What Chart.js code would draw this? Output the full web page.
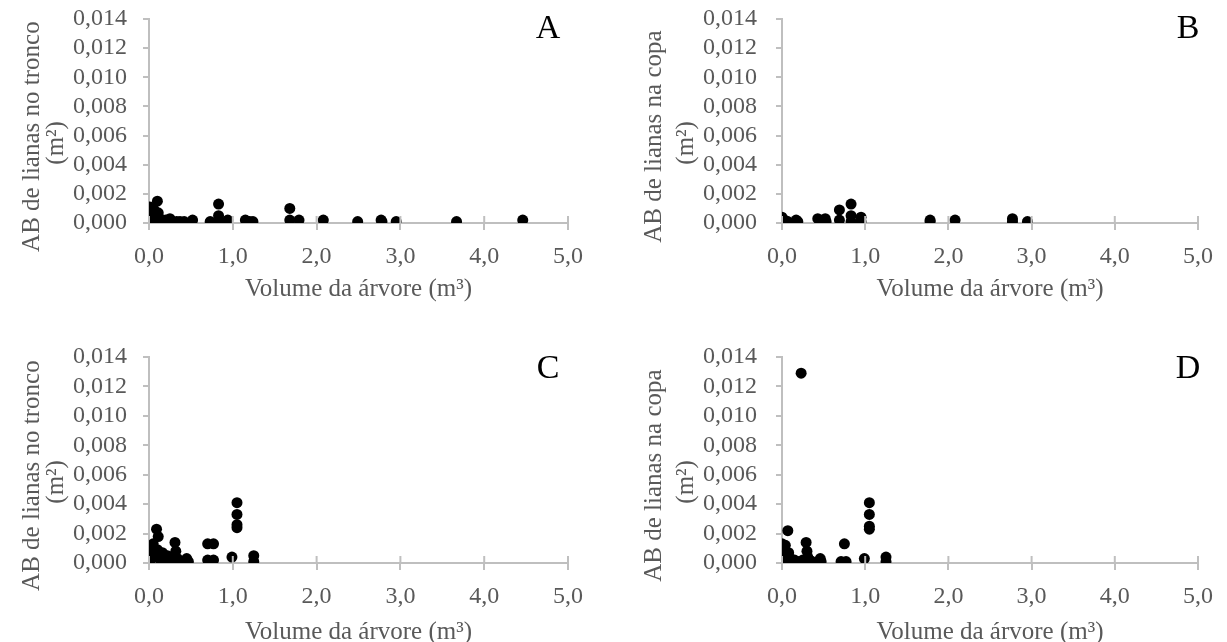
<!DOCTYPE html>
<html>
<head>
<meta charset="utf-8">
<script src="https://cdn.jsdelivr.net/npm/chart.js@4.4.0/dist/chart.umd.min.js"></script>
<style>
body{margin:0;background:#fff;width:1227px;height:642px;position:relative;overflow:hidden}
canvas{position:absolute}
</style>
</head>
<body>
<canvas id="cA" width="613" height="321" style="left:0;top:0"></canvas>
<canvas id="cB" width="614" height="321" style="left:613px;top:0"></canvas>
<canvas id="cC" width="613" height="321" style="left:0;top:321px"></canvas>
<canvas id="cD" width="614" height="321" style="left:613px;top:321px"></canvas>
<script>
// dados: volume da árvore (m³) e AB de lianas (m²)
const volA = [0.00,0.01,0.02,0.03,0.04,0.06,0.08,0.10,0.11,0.13,0.16,0.20,0.25,0.28,0.33,0.37,0.42,0.52,0.73,0.83,0.83,0.84,0.94,1.15,1.20,1.24,1.68,1.68,1.79,2.08,2.49,2.77,2.78,2.95,3.67,4.46];
const abA  = [0.0001,0.0011,0.0007,0.0004,0.0002,0.0009,0.0005,0.0015,0.0007,0.0003,0.0001,0.0002,0.0003,0.0001,0.0001,0.0001,0.0001,0.0002,0.0001,0.0013,0.0005,0.0001,0.0002,0.0002,0.0001,0.0001,0.0010,0.0002,0.0002,0.0002,0.0001,0.0002,0.0001,0.0001,0.0001,0.0002];

const volB = [0.00,0.00,0.03,0.07,0.17,0.19,0.43,0.52,0.53,0.69,0.69,0.83,0.83,0.83,0.95,0.95,1.78,1.78,2.08,2.77,2.77,2.95];
const abB  = [0.0004,0.0001,0.0002,0.0001,0.0002,0.0001,0.0003,0.0003,0.0001,0.0009,0.0002,0.0013,0.0005,0.0001,0.0004,0.0001,0.0002,0.0001,0.0002,0.0003,0.0001,0.0001];

const volC = [0.00,0.01,0.02,0.03,0.04,0.05,0.06,0.08,0.09,0.10,0.11,0.12,0.14,0.16,0.19,0.22,0.25,0.28,0.31,0.32,0.34,0.38,0.45,0.47,0.70,0.77,0.70,0.77,0.99,1.05,1.05,1.05,1.05,1.25,1.25];
const abC  = [0.0002,0.0005,0.0008,0.0003,0.0011,0.0013,0.0006,0.0004,0.0023,0.0009,0.0018,0.0005,0.0002,0.0007,0.0003,0.0005,0.0002,0.0004,0.0014,0.0008,0.0003,0.0001,0.0003,0.0001,0.0013,0.0013,0.0002,0.0002,0.0004,0.0041,0.0033,0.0026,0.0024,0.0005,0.0001];

const volD = [0.00,0.00,0.01,0.03,0.04,0.05,0.06,0.07,0.08,0.10,0.12,0.15,0.18,0.23,0.25,0.29,0.30,0.31,0.33,0.36,0.46,0.47,0.71,0.75,0.77,0.99,1.05,1.05,1.05,1.05,1.25,1.25];
const abD  = [0.0013,0.0006,0.0002,0.0009,0.0012,0.0004,0.0001,0.0022,0.0007,0.0003,0.0001,0.0002,0.0001,0.0129,0.0002,0.0014,0.0008,0.0004,0.0002,0.0001,0.0003,0.0001,0.0001,0.0013,0.0001,0.0003,0.0041,0.0033,0.0025,0.0023,0.0004,0.0001];

const xTicks = [0, 1, 2, 3, 4, 5];
const yTicks = [0, 0.002, 0.004, 0.006, 0.008, 0.010, 0.012, 0.014];

const FONT = '"Liberation Serif", "Times New Roman", serif';
const GRAY = '#595959';
const LINE = '#bfbfbf';

// marcas do eixo x cruzando a linha + letra do painel
const extras = {
  id: 'extras',
  afterDraw(chart, args, o) {
    const ctx = chart.ctx;
    const xs = chart.scales.x;
    const y0 = chart.chartArea.bottom;
    ctx.save();
    ctx.strokeStyle = LINE;
    ctx.lineWidth = 2;
    xs.ticks.forEach(t => {
      const px = xs.getPixelForValue(t.value);
      ctx.beginPath();
      ctx.moveTo(px, y0);
      ctx.lineTo(px, y0 - 7);
      ctx.stroke();
    });
    ctx.fillStyle = '#000';
    ctx.font = '34px ' + FONT;
    ctx.textAlign = 'center';
    ctx.textBaseline = 'alphabetic';
    ctx.fillText(o.letter, chart.chartArea.right + o.dx, chart.chartArea.top + o.dy);
    ctx.restore();
  }
};

function drawPanel(id, vols, abs, p) {
  const pts = vols.map((v, i) => ({x: v, y: abs[i]}));
  return new Chart(document.getElementById(id), {
    type: 'scatter',
    data: {
      datasets: [{
        data: pts,
        backgroundColor: '#000',
        borderColor: '#000',
        borderWidth: 0,
        pointRadius: 5.5,
        pointHoverRadius: 5.5
      }]
    },
    options: {
      responsive: false,
      animation: false,
      events: [],
      layout: {padding: {left: 0, top: p.top, right: p.right, bottom: 0}},
      scales: {
        x: {
          type: 'linear',
          min: xTicks[0], max: xTicks[xTicks.length - 1],
          afterBuildTicks: s => { s.ticks = xTicks.map(v => ({value: v})); },
          afterFit: s => { s.height = p.xH; s.paddingLeft = 0; s.paddingRight = 0; },
          ticks: {
            autoSkip: false,
            color: GRAY,
            padding: 12,
            font: {family: FONT, size: 24},
            callback: v => v.toFixed(1).replace('.', ',')
          },
          grid: {drawOnChartArea: false, tickLength: 7, color: LINE, lineWidth: 2},
          border: {color: LINE, width: 2},
          title: {
            display: true,
            text: 'Volume da árvore (m³)',
            color: GRAY,
            font: {family: FONT, size: 25, lineHeight: 1},
            padding: {top: 0, bottom: p.xTitlePad}
          }
        },
        y: {
          min: yTicks[0], max: yTicks[yTicks.length - 1],
          afterBuildTicks: s => { s.ticks = yTicks.map(v => ({value: v})); },
          afterFit: s => { s.width = p.yW; s.paddingTop = 0; s.paddingBottom = 0; },
          ticks: {
            autoSkip: false,
            color: GRAY,
            padding: p.yPad,
            font: {family: FONT, size: 24},
            callback: v => v.toFixed(3).replace('.', ',')
          },
          grid: {drawOnChartArea: false, tickLength: 6, color: LINE, lineWidth: 2},
          border: {color: LINE, width: 2},
          title: {
            display: true,
            text: [p.yTitle + '     ', '(m²)       '],
            color: GRAY,
            font: {family: FONT, size: 25, lineHeight: p.yLH},
            padding: {top: p.yTitleTop, bottom: 0}
          }
        }
      },
      plugins: {
        legend: {display: false},
        tooltip: {enabled: false},
        extras: {letter: p.letter, dx: p.dx, dy: p.dy}
      }
    },
    plugins: [extras]
  });
}

drawPanel('cA', volA, abA, {letter: 'A', dx: -20, dy: 19, top: 19, right: 45, xH: 98, xTitlePad: 19, yW: 149, yPad: 16, yTitle: 'AB de lianas no tronco', yLH: 0.97, yTitleTop: 20});
drawPanel('cB', volB, abB, {letter: 'B', dx: -10, dy: 19, top: 19, right: 29, xH: 98, xTitlePad: 19, yW: 169, yPad: 19, yTitle: 'AB de lianas na copa', yLH: 1.28, yTitleTop: 25});
drawPanel('cC', volC, abC, {letter: 'C', dx: -20, dy: 21, top: 36, right: 45, xH: 79, xTitlePad: -3, yW: 149, yPad: 16, yTitle: 'AB de lianas no tronco', yLH: 0.97, yTitleTop: 20});
drawPanel('cD', volD, abD, {letter: 'D', dx: -10, dy: 21, top: 36, right: 29, xH: 79, xTitlePad: -3, yW: 169, yPad: 19, yTitle: 'AB de lianas na copa', yLH: 1.28, yTitleTop: 25});
</script>
</body>
</html>
